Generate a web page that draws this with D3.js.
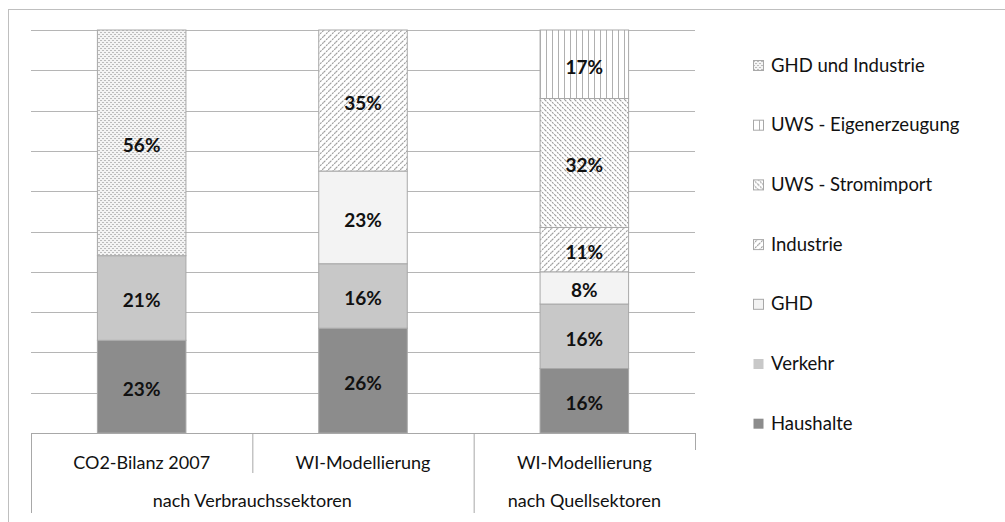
<!DOCTYPE html>
<html>
<head>
<meta charset="utf-8">
<script src="https://cdn.jsdelivr.net/npm/d3@7"></script>
<style>
  body { margin: 0; background: #fff; }
  svg { display: block; font-family: Lato, "Open Sans", sans-serif; }
</style>
</head>
<body>
<svg width="1005" height="522"></svg>
<script>
// data (percent)
var categories = ["CO2-Bilanz 2007", "WI-Modellierung", "WI-Modellierung"],
    groups = [
      { label: "nach Verbrauchssektoren", from: 0, to: 1 },
      { label: "nach Quellsektoren", from: 2, to: 2 }
    ],
    seriesNames = ["Haushalte", "Verkehr", "GHD", "Industrie",
                   "UWS - Stromimport", "UWS - Eigenerzeugung", "GHD und Industrie"],
    haushalte = [23, 26, 16],
    verkehr = [21, 16, 16],
    ghd = [0, 23, 8],
    industrie = [0, 35, 11],
    uwsImport = [0, 0, 32],
    uwsEigen = [0, 0, 17],
    ghdInd = [56, 0, 0],
    yTicks = [0, 10, 20, 30, 40, 50, 60, 70, 80, 90, 100];

var values = [haushalte, verkehr, ghd, industrie, uwsImport, uwsEigen, ghdInd];

// note: "top" clashes with window.top, so plotTop etc.
var svg = d3.select("svg"),
    plotLeft = 31, plotRight = 695, plotTop = 30, plotBottom = 433;

var fills = {
  "Haushalte": "#8c8c8c",
  "Verkehr": "#c8c8c8",
  "GHD": "#f3f3f3",
  "Industrie": "url(#p-ind)",
  "UWS - Stromimport": "url(#p-imp)",
  "UWS - Eigenerzeugung": "url(#p-eig)",
  "GHD und Industrie": "url(#p-gi)"
};

// patterns
var defs = svg.append("defs");
var p = defs.append("pattern").attr("id", "p-ind").attr("patternUnits", "userSpaceOnUse")
    .attr("width", 6).attr("height", 6);
p.append("rect").attr("width", 6).attr("height", 6).attr("fill", "#fff");
p.append("path").attr("d", "M0,6 L6,0 M-1,1 L1,-1 M5,7 L7,5")
    .attr("stroke", "#9a9a9a").attr("stroke-width", 1.1).attr("stroke-dasharray", "2,1");

p = defs.append("pattern").attr("id", "p-imp").attr("patternUnits", "userSpaceOnUse")
    .attr("width", 5).attr("height", 5);
p.append("rect").attr("width", 5).attr("height", 5).attr("fill", "#fff");
p.append("path").attr("d", "M0,0 L5,5 M-1,4 L1,6 M4,-1 L6,1")
    .attr("stroke", "#9a9a9a").attr("stroke-width", 1.1).attr("stroke-dasharray", "2,1");

p = defs.append("pattern").attr("id", "p-eig").attr("patternUnits", "userSpaceOnUse")
    .attr("width", 6).attr("height", 6);
p.append("rect").attr("width", 6).attr("height", 6).attr("fill", "#fff");
p.append("line").attr("x1", 0.5).attr("x2", 0.5).attr("y1", 0).attr("y2", 6)
    .attr("stroke", "#b0b0b0").attr("stroke-width", 1);

p = defs.append("pattern").attr("id", "p-gi").attr("patternUnits", "userSpaceOnUse")
    .attr("width", 4).attr("height", 4);
p.append("rect").attr("width", 4).attr("height", 4).attr("fill", "#f4f4f4");
p.append("rect").attr("x", 0).attr("y", 0).attr("width", 2).attr("height", 1).attr("fill", "#bcbcbc");
p.append("rect").attr("x", 2).attr("y", 2).attr("width", 2).attr("height", 1).attr("fill", "#bcbcbc");

// outer frame
svg.append("rect").attr("x", 8.5).attr("y", 9.5).attr("width", 1010).attr("height", 530)
    .attr("fill", "none").attr("stroke", "#bfbfbf");

var x = d3.scaleBand().domain(d3.range(categories.length)).range([plotLeft, plotRight]).padding(0);
var y = d3.scaleLinear().domain([0, 100]).range([plotBottom, plotTop]);
var barW = x.bandwidth() * 0.4;

// gridlines
svg.append("g").selectAll("line").data(yTicks).join("line")
    .attr("x1", plotLeft).attr("x2", plotRight)
    .attr("y1", function(d) { return Math.round(y(d)) + 0.5; })
    .attr("y2", function(d) { return Math.round(y(d)) + 0.5; })
    .attr("stroke", "#b5b5b5");

// stacked bars
var table = categories.map(function(c, i) {
  var row = { i: i };
  seriesNames.forEach(function(s, k) { row[s] = values[k][i]; });
  return row;
});
var stack = d3.stack().keys(seriesNames)(table);

var layer = svg.append("g").selectAll("g").data(stack).join("g")
    .attr("fill", function(d) { return fills[d.key]; });

layer.selectAll("rect").data(function(d) { return d.filter(function(v) { return v[1] > v[0]; }); })
  .join("rect")
    .attr("x", function(d) { return x(d.data.i) + (x.bandwidth() - barW) / 2; })
    .attr("width", barW)
    .attr("y", function(d) { return y(d[1]); })
    .attr("height", function(d) { return y(d[0]) - y(d[1]); })
    .attr("stroke", "#a8a8a8").attr("stroke-width", 1);

layer.selectAll("text").data(function(d) { return d.filter(function(v) { return v[1] > v[0]; }); })
  .join("text")
    .attr("x", function(d) { return x(d.data.i) + x.bandwidth() / 2; })
    .attr("y", function(d) { return (y(d[0]) + y(d[1])) / 2; })
    .attr("dy", "0.5em")
    .attr("text-anchor", "middle")
    .attr("fill", "#111")
    .style("font-weight", "bold").style("font-size", "19px")
    .text(function(d) { return (d[1] - d[0]) + "%"; });

// category axis (two levels)
var ax = svg.append("g").attr("stroke", "#a8a8a8").attr("fill", "none");
ax.append("line").attr("x1", plotLeft).attr("x2", plotRight).attr("y1", plotBottom + 0.5).attr("y2", plotBottom + 0.5);
ax.append("line").attr("x1", plotLeft + 0.5).attr("x2", plotLeft + 0.5).attr("y1", plotBottom).attr("y2", 513);
ax.append("line").attr("x1", x(1) + 0.5).attr("x2", x(1) + 0.5).attr("y1", plotBottom).attr("y2", 473);
ax.append("line").attr("x1", x(2) + 0.5).attr("x2", x(2) + 0.5).attr("y1", plotBottom).attr("y2", 513);
ax.append("line").attr("x1", plotRight + 0.5).attr("x2", plotRight + 0.5).attr("y1", plotBottom).attr("y2", 450);

svg.append("g").selectAll("text").data(categories).join("text")
    .attr("x", function(d, i) { return x(i) + x.bandwidth() / 2; })
    .attr("y", 463).attr("dy", "0.36em")
    .attr("text-anchor", "middle").attr("fill", "#111").style("font-size", "18px")
    .text(function(d) { return d; });

svg.append("g").selectAll("text").data(groups).join("text")
    .attr("x", function(d) { return (x(d.from) + x(d.to) + x.bandwidth()) / 2; })
    .attr("y", 501).attr("dy", "0.36em")
    .attr("text-anchor", "middle").attr("fill", "#111").style("font-size", "18px")
    .text(function(d) { return d.label; });

// legend
var legend = svg.append("g").selectAll("g").data(seriesNames.slice().reverse()).join("g")
    .attr("transform", function(d, i) { return "translate(753," + (65 + i * 59.7) + ")"; });
legend.append("rect").attr("x", 0.5).attr("y", -4.5).attr("width", 10).attr("height", 10)
    .attr("fill", function(d) { return fills[d]; })
    .attr("stroke", function(d) { return d === "Haushalte" || d === "Verkehr" ? "none" : "#a8a8a8"; });
legend.append("text").attr("x", 18).attr("dy", "0.36em")
    .attr("fill", "#111").style("font-size", "18.5px")
    .text(function(d) { return d; });
</script>
</body>
</html>
